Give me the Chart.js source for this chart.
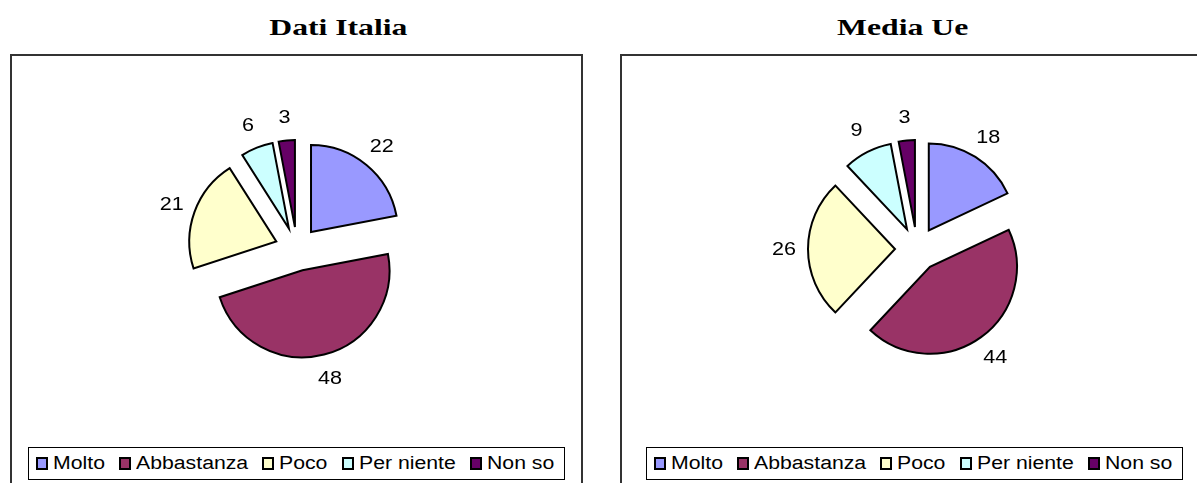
<!DOCTYPE html>
<html>
<head>
<meta charset="utf-8">
<script src="https://cdn.jsdelivr.net/npm/chart.js@4.4.1/dist/chart.umd.min.js"></script>
<style>
  body { margin: 0; background: #fff; width: 1197px; height: 483px; overflow: hidden; position: relative; }
  .title { position: absolute; top: 15px; width: 240px; text-align: center; font: bold 24px "Liberation Serif", "Times New Roman", serif; line-height: 24px; color: #000; }
  .title span { display: inline-block; transform: scaleX(1.32); }
  .frame { position: absolute; top: 54px; height: 460px; border: 2px solid #333; box-sizing: border-box; }
  canvas { position: absolute; top: 56px; }
  .legend { position: absolute; top: 447px; width: 537px; height: 33px; box-sizing: border-box; border: 1px solid #000;
            padding: 0 10px 0 7px; display: flex; justify-content: space-between; align-items: center; background: #fff; }
  .item { display: flex; align-items: center; }
  .box { width: 8px; height: 9px; border: 2px solid #000; margin-right: 5px; }
  .txt { display: inline-block; font: 18px "Liberation Sans", Arial, sans-serif; color: #000; white-space: nowrap; }
  .txt span { display: inline-block; transform: scaleX(1.18); transform-origin: left center; }
</style>
</head>
<body>
<div class="title" style="left:218px"><span>Dati Italia</span></div>
<div class="title" style="left:783px"><span>Media Ue</span></div>
<div class="frame" style="left:10px; width:573px"></div>
<div class="frame" style="left:620px; width:600px"></div>
<canvas id="chartItalia" width="500" height="386" style="left:47px; width:500px; height:386px"></canvas>
<canvas id="chartUe" width="500" height="386" style="left:667px; width:500px; height:386px"></canvas>
<div class="legend" id="legendItalia" style="left:28px"></div>
<div class="legend" id="legendUe" style="left:646px"></div>
<script>
const categories = ['Molto', 'Abbastanza', 'Poco', 'Per niente', 'Non so'];
const datiItalia = [22, 48, 21, 6, 3];
const mediaUe = [18, 44, 26, 9, 3];
const sliceColors = ['#9999FF', '#993366', '#FFFFCC', '#CCFFFF', '#660066'];

const EXPLODE = 22;

// pull every slice out from the centre, keeping its radius
const explode = {
  id: 'explode',
  beforeDatasetsDraw(chart) {
    const ctx = chart.ctx;
    chart.getDatasetMeta(0).data.forEach(arc => {
      const mid = (arc.startAngle + arc.endAngle) / 2;
      ctx.save();
      ctx.translate(Math.cos(mid) * EXPLODE, Math.sin(mid) * EXPLODE);
      arc.draw(ctx);
      ctx.restore();
    });
    return false;
  }
};

// values written just outside each slice
const valueLabels = {
  id: 'valueLabels',
  afterDraw(chart) {
    const ctx = chart.ctx;
    const values = chart.data.datasets[0].data;
    ctx.save();
    ctx.font = '18px "Liberation Sans", Arial, sans-serif';
    ctx.fillStyle = '#000';
    ctx.textAlign = 'center';
    ctx.textBaseline = 'middle';
    chart.getDatasetMeta(0).data.forEach((arc, i) => {
      const mid = (arc.startAngle + arc.endAngle) / 2;
      const d = arc.outerRadius + EXPLODE + 24;
      ctx.save();
      ctx.translate(arc.x + Math.cos(mid) * d, arc.y + Math.sin(mid) * d);
      ctx.scale(1.2, 1);
      ctx.fillText(values[i], 0, 1);
      ctx.restore();
    });
    ctx.restore();
  }
};

function makePie(id, values) {
  let ctx = document.getElementById(id).getContext('2d');
  return new Chart(ctx, {
    type: 'pie',
    data: {
      labels: categories,
      datasets: [{
        data: values,
        backgroundColor: sliceColors,
        borderColor: '#000',
        borderWidth: 2,
        borderJoinStyle: 'miter',
        hoverOffset: 0
      }]
    },
    options: {
      responsive: false,
      animation: false,
      events: [],
      radius: 87,
      layout: { padding: 0 },
      plugins: {
        legend: { display: false },
        tooltip: { enabled: false }
      }
    },
    plugins: [explode, valueLabels]
  });
}

function makeLegend(id) {
  let el = document.getElementById(id);
  categories.forEach((c, i) => {
    el.innerHTML += `<div class="item"><span class="box" style="background:${sliceColors[i]}"></span><span class="txt"><span>${c}</span></span></div>`;
  });
  el.querySelectorAll('.txt').forEach(t => {
    t.style.width = t.firstChild.getBoundingClientRect().width + 'px';
  });
}

makePie('chartItalia', datiItalia);
makePie('chartUe', mediaUe);
makeLegend('legendItalia');
makeLegend('legendUe');
</script>
</body>
</html>
